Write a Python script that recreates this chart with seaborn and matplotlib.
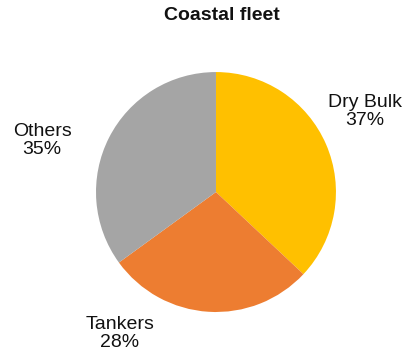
import matplotlib
matplotlib.use("Agg")
import matplotlib.pyplot as plt
import seaborn as sns

sns.set_theme(style="white")
plt.rcParams['font.family'] = ['Liberation Sans', 'DejaVu Sans']

categories = ["Dry Bulk", "Tankers", "Others"]
shares = [37, 28, 35]
colors = ["#FFC000", "#ED7D31", "#A5A5A5"]
title = "Coastal fleet"

label_pos = {"Dry Bulk": (1.24, 0.67), "Tankers": (-0.80, -1.18), "Others": (-1.45, 0.43)}

fig = plt.figure(figsize=(4.04, 3.56), dpi=100)
ax = fig.add_axes([0.2376, 0.1236, 0.594, 0.674])
ax.pie(shares, colors=colors, startangle=90, counterclock=False, radius=1.0,
       wedgeprops=dict(linewidth=0))
ax.set_xlim(-1, 1)
ax.set_ylim(-1, 1)
ax.set_aspect("equal")
for cat, val in zip(categories, shares):
    x, y = label_pos[cat]
    ax.text(x, y, f"{cat}\n{val}%", ha="center", va="center", fontsize=14,
            color="#111111", linespacing=1.1, clip_on=False)
fig.text(222/404, 1 - 16/356, title, ha="center", va="center", fontsize=14,
         fontweight="bold", color="#111111")
fig.savefig("out.png", dpi=100, facecolor="white")
